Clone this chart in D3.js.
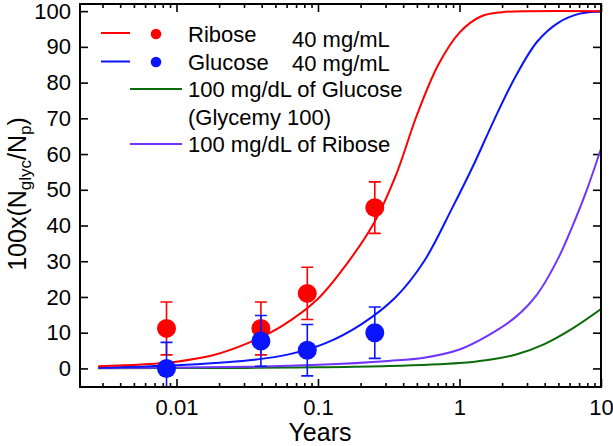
<!DOCTYPE html>
<html>
<head>
<meta charset="utf-8">
<script src="https://cdn.jsdelivr.net/npm/d3@7"></script>
<style>
  body { margin: 0; background: #fff; }
  text { font-family: "Liberation Sans", Arial, sans-serif; fill: #000; }
</style>
</head>
<body>
<div id="chart"></div>
<script>
var svgWidth = 613;
var svgHeight = 446;

var margin = { top: 4, right: 12, bottom: 59, left: 80 };
var width = svgWidth - margin.left - margin.right;
var height = svgHeight - margin.top - margin.bottom;

// measured points (years, %)
var pointYears = [0.0085, 0.0395, 0.084, 0.252];
var riboseValues = [11.2, 11.2, 21, 45];
var riboseErrors = [7.4, 7.4, 7.3, 7.2];
var glucoseValues = [0, 7.7, 5.1, 10];
var glucoseErrors = [7.3, 7.1, 7.2, 7.2];

// fitted curves
var riboseFitYears = [0.0028, 0.00562, 0.01, 0.0178, 0.0316, 0.0562, 0.1, 0.158, 0.251, 0.355, 0.501, 0.708, 1, 1.413, 1.995, 3.16, 10];
var riboseFitValues = [0.6, 1.1, 1.9, 3.6, 7, 12, 19.5, 29, 41, 54, 71, 85, 94, 98.5, 99.7, 100, 100];

var glucoseFitYears = [0.0028, 0.01, 0.02, 0.0355, 0.0631, 0.1122, 0.1995, 0.355, 0.562, 0.891, 1.259, 1.778, 2.512, 3.548, 5.012, 7.079, 10];
var glucoseFitValues = [0.2, 0.9, 1.6, 2.4, 4.0, 7.0, 12.2, 20, 30, 45, 57, 70, 82, 91.5, 96.8, 99.3, 100];

var ribose100Years = [0.0028, 0.0316, 0.1, 0.316, 0.562, 1, 1.585, 2.512, 3.548, 5.012, 6.31, 7.943, 10];
var ribose100Values = [0.1, 0.45, 1.0, 2.1, 3.0, 5.3, 9.2, 14.5, 20.8, 31, 40, 50, 61.5];

var glucose100Years = [0.0028, 0.0316, 0.1, 0.316, 1, 1.585, 2.512, 3.981, 6.31, 10];
var glucose100Values = [0.05, 0.15, 0.3, 0.65, 1.5, 2.35, 3.9, 6.8, 11.2, 16.6];

var xTickValues = [0.01, 0.1, 1, 10];
var xTickLabels = ["0.01", "0.1", "1", "10"];
var yTickValues = [0, 10, 20, 30, 40, 50, 60, 70, 80, 90, 100];

var red = "#ff0000";
var blue = "#0a14ff";
var green = "#0b6b0b";
var purple = "#6f35ff";

var svg = d3.select("#chart")
    .append("svg")
    .attr("width", svgWidth)
    .attr("height", svgHeight);

var chartGroup = svg.append("g")
    .attr("transform", `translate(${margin.left}, ${margin.top})`);

var xLogScale = d3.scaleLog()
    .domain([0.00208, 10])
    .range([0, width]);

var yLinearScale = d3.scaleLinear()
    .domain([-5.2, 102])
    .range([height, 0]);

// minor ticks 2..9 of each decade inside the domain
var minorTicks = [];
[0.001, 0.01, 0.1, 1].forEach(d => {
    for (var i = 2; i <= 9; i++) {
        var v = d * i;
        if (v >= xLogScale.domain()[0] && v <= 10) minorTicks.push(v);
    }
});

svg.append("clipPath")
    .attr("id", "plotClip")
    .append("rect")
    .attr("width", width)
    .attr("height", height);

// axes
var bottomAxis = d3.axisBottom(xLogScale)
    .tickValues(xTickValues)
    .tickFormat((d, i) => xTickLabels[i])
    .tickSizeInner(-8)
    .tickSizeOuter(0)
    .tickPadding(12);

var xAxis = chartGroup.append("g")
    .attr("transform", `translate(0, ${height})`)
    .call(bottomAxis);

chartGroup.append("g")
    .attr("transform", `translate(0, ${height})`)
    .call(d3.axisBottom(xLogScale).tickValues(minorTicks).tickFormat("").tickSizeInner(-4).tickSizeOuter(0));

chartGroup.append("g")
    .call(d3.axisTop(xLogScale).tickValues(xTickValues).tickFormat("").tickSizeInner(-8).tickSizeOuter(0));

chartGroup.append("g")
    .call(d3.axisTop(xLogScale).tickValues(minorTicks).tickFormat("").tickSizeInner(-4).tickSizeOuter(0));

var leftAxis = d3.axisLeft(yLinearScale)
    .tickValues(yTickValues)
    .tickSizeInner(-8)
    .tickSizeOuter(0)
    .tickPadding(9);

var yAxis = chartGroup.append("g")
    .call(leftAxis);

chartGroup.append("g")
    .attr("transform", `translate(${width}, 0)`)
    .call(d3.axisRight(yLinearScale).tickValues(yTickValues).tickFormat("").tickSizeInner(-8).tickSizeOuter(0));

chartGroup.selectAll(".domain").remove();
chartGroup.selectAll(".tick line")
    .attr("stroke", "#000")
    .attr("stroke-width", 1.6);
chartGroup.selectAll(".tick text")
    .style("font-size", "22px")
    .style("font-family", "'Liberation Sans', Arial, sans-serif");

// fitted curves
var plotArea = chartGroup.append("g")
    .attr("clip-path", "url(#plotClip)");

var line = d3.line()
    .x(d => xLogScale(d[0]))
    .y(d => yLinearScale(d[1]))
    .curve(d3.curveCatmullRom.alpha(0.5));

var curves = [
    { years: glucose100Years, values: glucose100Values, color: green },
    { years: ribose100Years, values: ribose100Values, color: purple },
    { years: glucoseFitYears, values: glucoseFitValues, color: blue },
    { years: riboseFitYears, values: riboseFitValues, color: red }
];

curves.forEach(c => {
    plotArea.append("path")
        .datum(c.years.map((t, i) => [t, c.values[i]]))
        .attr("fill", "none")
        .attr("stroke", c.color)
        .attr("stroke-width", 2)
        .attr("d", line);
});

// error bars and markers
function drawPoints(values, errors, color) {
    var pts = pointYears.map((t, i) => ({ t: t, v: values[i], e: errors[i] }));
    var g = plotArea.append("g");
    g.selectAll(".bar")
        .data(pts)
        .enter()
        .append("path")
        .attr("fill", "none")
        .attr("stroke", color)
        .attr("stroke-width", 1.6)
        .attr("d", d => {
            var x = xLogScale(d.t);
            var y1 = yLinearScale(d.v + d.e);
            var y0 = yLinearScale(d.v - d.e);
            return `M${x - 6},${y1}H${x + 6}M${x},${y1}V${y0}M${x - 6},${y0}H${x + 6}`;
        });
    g.selectAll("circle")
        .data(pts)
        .enter()
        .append("circle")
        .attr("cx", d => xLogScale(d.t))
        .attr("cy", d => yLinearScale(d.v))
        .attr("r", 9.5)
        .attr("fill", color);
}

drawPoints(riboseValues, riboseErrors, red);
drawPoints(glucoseValues, glucoseErrors, blue);

// frame
chartGroup.append("rect")
    .attr("width", width)
    .attr("height", height)
    .attr("fill", "none")
    .attr("stroke", "#000")
    .attr("stroke-width", 2);

// axis titles
svg.append("text")
    .attr("x", 320)
    .attr("y", 441)
    .attr("text-anchor", "middle")
    .style("font-size", "25px")
    .text("Years");

var yTitle = svg.append("text")
    .attr("transform", "translate(26, 194) rotate(-90)")
    .attr("text-anchor", "middle")
    .style("font-size", "25px");
yTitle.append("tspan").text("100x(N");
yTitle.append("tspan").attr("dy", 5).style("font-size", "17px").text("glyc");
yTitle.append("tspan").attr("dy", -5).text("/N");
yTitle.append("tspan").attr("dy", 5).style("font-size", "17px").text("p");
yTitle.append("tspan").attr("dy", -5).text(")");

// legend
var legend = svg.append("g");
var legendFont = "22px";

function legendLine(x1, x2, y, color) {
    legend.append("line")
        .attr("x1", x1).attr("x2", x2)
        .attr("y1", y).attr("y2", y)
        .attr("stroke", color)
        .attr("stroke-width", 2);
}
function legendText(x, y, s) {
    legend.append("text")
        .attr("x", x).attr("y", y)
        .style("font-size", legendFont)
        .text(s);
}

legendLine(101, 130, 33, red);
legend.append("circle").attr("cx", 156).attr("cy", 34).attr("r", 5.3).attr("fill", red);
legendText(188, 41.5, "Ribose");
legendText(292, 46.5, "40 mg/mL");

legendLine(101, 130, 61.5, blue);
legend.append("circle").attr("cx", 156).attr("cy", 62).attr("r", 5.3).attr("fill", blue);
legendText(188, 70, "Glucose");
legendText(292, 71, "40 mg/mL");

legendLine(130, 182, 89, green);
legendText(188, 97, "100 mg/dL of Glucose");
legendText(188, 125, "(Glycemy 100)");

legendLine(130, 182, 144, purple);
legendText(188, 152, "100 mg/dL of Ribose");
</script>
</body>
</html>
